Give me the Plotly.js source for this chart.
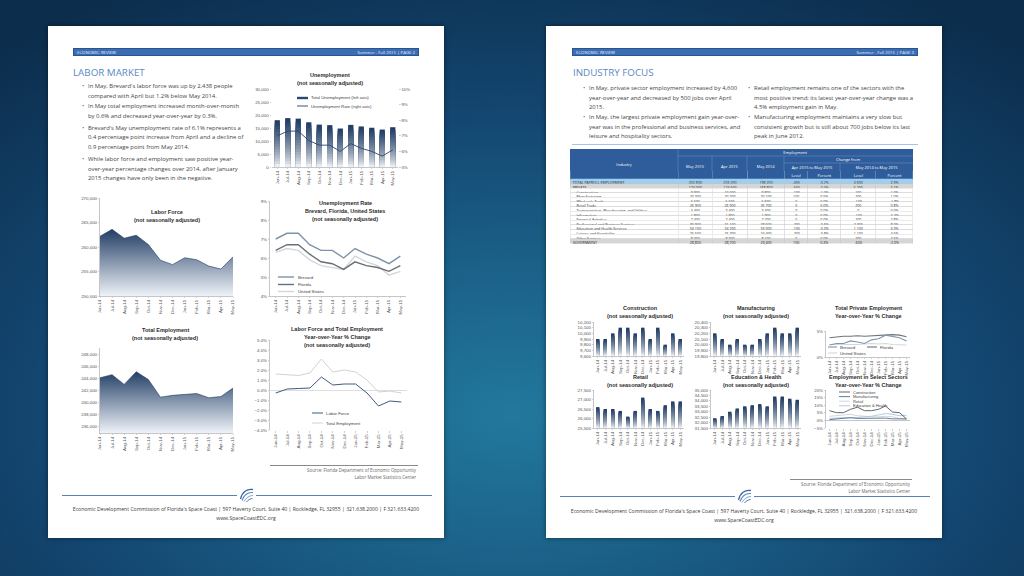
<!DOCTYPE html>
<html>
<head>
<meta charset="utf-8">
<script src="https://cdn.plot.ly/plotly-3.0.1.min.js"></script>
<style>
html,body{margin:0;padding:0;}
body{width:1024px;height:576px;overflow:hidden;position:relative;
background:radial-gradient(ellipse 75% 85% at 50% 72%, #22789d 0%, #1b6188 30%, #134670 62%, #0c2d4c 100%);}
.page{position:absolute;top:26px;width:396px;height:512px;background:#fff;box-shadow:0 0 5px rgba(0,0,0,.45);z-index:1;}
.hbar{position:absolute;z-index:2;height:8px;width:346px;background:#3a6db4;border:0.5px solid #2a5490;box-sizing:border-box;}
.hbar span{position:absolute;top:0;line-height:7px;font-size:4.3px;color:#e4edf9;font-family:'Open Sans',sans-serif;white-space:nowrap;}
.sec{position:absolute;z-index:2;font-family:'Open Sans',sans-serif;font-size:9.8px;color:#5b88c4;line-height:10px;white-space:nowrap;}
.bl{position:absolute;z-index:2;font-family:'Open Sans',sans-serif;font-size:5.9px;line-height:9.3px;color:#444;white-space:nowrap;}
.bl:before{content:'\2022';position:absolute;left:-6px;top:0;color:#4f74a8;}
.src{position:absolute;z-index:2;font-family:'Open Sans',sans-serif;font-size:4.4px;line-height:6.5px;color:#666;text-align:right;white-space:nowrap;}
.hl{position:absolute;z-index:2;height:0;}
.addr{position:absolute;z-index:2;font-family:'Open Sans',sans-serif;font-size:5.1px;line-height:8.5px;color:#3a3a3a;text-align:center;white-space:nowrap;width:396px;}
#plot{position:absolute;left:0;top:0;width:1024px;height:576px;z-index:3;}
#tbl{position:absolute;left:570px;top:149px;width:1029px;height:288px;transform:scale(0.333333);transform-origin:0 0;z-index:4;}
</style>
</head>
<body>
<div class="page" style="left:48px"></div>
<div class="page" style="left:546px"></div>

<!-- left page text -->
<div class="hbar" style="left:73px;top:48px"><span style="left:3px">ECONOMIC REVIEW</span><span style="right:3px">Summer - Fall 2015 | PAGE 2</span></div>
<div class="sec" style="left:73px;top:68px">LABOR MARKET</div>
<div class="bl" style="left:88px;top:82.4px">In May, Brevard's labor force was up by 2,438 people<br>compared with April but 1.2% below May 2014.</div>
<div class="bl" style="left:88px;top:102.4px">In May total employment increased month-over-month<br>by 0.6% and decreased year-over-year by 0.3%.</div>
<div class="bl" style="left:88px;top:124px">Brevard's May unemployment rate of 6.1% represents a<br>0.4 percentage point increase from April and a decline of<br>0.9 percentage point from May 2014.</div>
<div class="bl" style="left:88px;top:155.4px">While labor force and employment saw positive year-<br>over-year percentage changes over 2014, after January<br>2015 changes have only been in the negative.</div>
<div class="hl" style="left:270px;top:465px;width:148px;border-top:1px solid #8a8a8a"></div>
<div class="src" style="left:218px;top:467px;width:198px">Source: Florida Department of Economic Opportunity<br>Labor Market Statistics Center</div>
<div class="hl" style="left:62px;top:495px;width:175px;border-top:1px solid #5a80b8"></div>
<div class="hl" style="left:256px;top:495px;width:176px;border-top:1px solid #5a80b8"></div>
<svg style="position:absolute;left:238px;top:486px;z-index:2" width="17" height="17" viewBox="0 0 17 17">
<path d="M2.5 13 C4 6, 9 2.5, 15 3.5" stroke="#3b66a6" stroke-width="1.3" fill="none"/>
<path d="M4 14.5 C6 9, 10 6, 15 6.5" stroke="#5d86bf" stroke-width="1.1" fill="none"/>
<path d="M6 15.5 C8 12, 11 9.5, 15 9.5" stroke="#7fa2d2" stroke-width="1" fill="none"/>
<path d="M8.5 16 C10 14, 12 12.8, 14.5 12.5" stroke="#3b66a6" stroke-width="0.9" fill="none"/>
</svg>
<div class="addr" style="left:48px;top:505px">Economic Development Commission of Florida's Space Coast | 597 Haverty Court, Suite 40 | Rockledge, FL 32955 | 321.638.2000 | F 321.633.4200<br>www.SpaceCoastEDC.org</div>

<!-- right page text -->
<div class="hbar" style="left:572px;top:48px"><span style="left:3px">ECONOMIC REVIEW</span><span style="right:3px">Summer - Fall 2015 | PAGE 3</span></div>
<div class="sec" style="left:573px;top:68px">INDUSTRY FOCUS</div>
<div class="bl" style="left:589px;top:84.4px">In May, private sector employment increased by 4,600<br>year-over-year and decreased by 500 jobs over April<br>2015.</div>
<div class="bl" style="left:589px;top:113.4px">In May, the largest private employment gain year-over-<br>year was in the professional and business services, and<br>leisure and hospitality sectors.</div>
<div class="bl" style="left:754px;top:84.4px">Retail employment remains one of the sectors with the<br>most positive trend; its latest year-over-year change was a<br>4.5% employment gain in May.</div>
<div class="bl" style="left:754px;top:113.4px">Manufacturing employment maintains a very slow but<br>consistent growth but is still about 700 jobs below its last<br>peak in June 2012.</div>
<div class="hl" style="left:572px;top:144px;width:346px;border-top:1px solid #a9c4e4"></div>
<div class="hl" style="left:790px;top:479px;width:122px;border-top:1px solid #8a8a8a"></div>
<div class="src" style="left:712px;top:481px;width:198px">Source: Florida Department of Economic Opportunity<br>Labor Market Statistics Center</div>
<div class="hl" style="left:560px;top:496px;width:175px;border-top:1px solid #5a80b8"></div>
<div class="hl" style="left:754px;top:496px;width:176px;border-top:1px solid #5a80b8"></div>
<svg style="position:absolute;left:736px;top:487px;z-index:2" width="17" height="17" viewBox="0 0 17 17">
<path d="M2.5 13 C4 6, 9 2.5, 15 3.5" stroke="#3b66a6" stroke-width="1.3" fill="none"/>
<path d="M4 14.5 C6 9, 10 6, 15 6.5" stroke="#5d86bf" stroke-width="1.1" fill="none"/>
<path d="M6 15.5 C8 12, 11 9.5, 15 9.5" stroke="#7fa2d2" stroke-width="1" fill="none"/>
<path d="M8.5 16 C10 14, 12 12.8, 14.5 12.5" stroke="#3b66a6" stroke-width="0.9" fill="none"/>
</svg>
<div class="addr" style="left:546px;top:507px">Economic Development Commission of Florida's Space Coast | 597 Haverty Court, Suite 40 | Rockledge, FL 32955 | 321.638.2000 | F 321.633.4200<br>www.SpaceCoastEDC.org</div>

<div id="plot"></div>
<div id="tbl"></div>
<script>
// ---------------- DATA ----------------
const months = ['Jun-14','Jul-14','Aug-14','Sep-14','Oct-14','Nov-14','Dec-14','Jan-15','Feb-15','Mar-15','Apr-15','May-15'];
const totalUnemployment = [18000,18800,18600,17200,16300,16100,14800,16200,15600,15100,14400,15300];
const unemploymentRate = [7.0,7.3,7.3,6.7,6.4,6.4,6.0,6.5,6.2,6.0,5.7,6.1];
const laborForce = [262200,263600,261800,262400,260500,257300,256400,257800,257400,256100,255500,258000];
const rateBrevard = [7.0,7.3,7.3,6.7,6.4,6.4,6.0,6.5,6.2,6.0,5.7,6.1];
const rateFlorida = [6.4,6.7,6.7,6.2,5.8,5.7,5.4,5.8,5.6,5.5,5.3,5.6];
const rateUS = [6.3,6.5,6.4,5.9,5.6,5.5,5.4,6.1,5.8,5.6,5.1,5.3];
const totalEmployment = [244100,244600,243000,245100,243800,240900,241200,241300,241500,240800,241000,242400];
const laborForceChange = [-0.3,0.1,0.15,0.2,1.3,0.5,0.6,0.6,-0.3,-1.6,-1.1,-1.2];
const totalEmploymentChange = [1.6,1.5,1.45,1.7,3.1,1.8,2.0,1.8,1.0,-0.2,-0.1,-0.3];
const construction = [9900,9900,10000,10100,10100,10000,10100,9900,10100,9800,10000,9900];
const manufacturing = [20200,20100,20000,20100,20000,20000,20100,20200,20300,20200,20200,20300];
const privateBrevard = [2.3,2.6,2.6,3.1,2.9,2.6,3.3,3.5,4.2,4.0,3.7,3.1];
const privateFlorida = [3.7,3.9,4.0,4.0,4.1,4.0,4.1,4.1,4.2,4.3,4.2,3.9];
const privateUS = [2.4,2.4,2.3,2.4,2.4,2.5,2.6,2.5,2.6,2.4,2.3,2.3];
const retail = [26600,26500,26500,26400,26100,26400,27100,26500,26400,26700,26900,26900];
const eduHealth = [32400,32600,33000,33300,33500,33600,33700,33500,34400,34400,34200,34100];
const yoyConstruction = [6.4,5.1,5.1,7.3,8.7,6.4,6.4,7.3,9.5,5.5,5.1,1.0];
const yoyManufacturing = [0.5,1.0,1.3,1.8,1.3,1.3,1.5,1.5,1.5,1.0,1.0,1.0];
const yoyRetail = [2.7,3.1,3.6,4.0,3.1,2.7,2.4,2.4,2.7,2.4,1.3,0.8];
const yoyEduHealth = [1.3,1.6,1.8,1.6,1.8,2.0,2.7,3.6,4.5,4.0,3.1,3.3];

// table
const industries = ['TOTAL PAYROLL EMPLOYMENT','PRIVATE','Construction','Manufacturing','Wholesale Trade','Retail Trade','Transportation, Warehousing, and Utilities','Information','Financial Activities','Professional and Business Services','Education and Health Services','Leisure and Hospitality','Other Services','GOVERNMENT'];
const indent = [0,0,1,1,1,1,1,1,1,1,1,1,1,0];
const emp2015May = ['202,800','174,000','9,900','20,300','5,500','26,900','3,400','1,800','7,400','30,900','34,100','25,500','8,300','28,800'];
const emp2015Apr = ['203,200','174,500','10,000','20,200','5,500','26,900','3,400','1,800','7,400','31,100','34,200','25,700','8,300','28,700'];
const emp2014May = ['198,200','168,800','9,800','20,100','5,600','26,700','3,400','1,900','7,200','28,600','33,000','24,400','8,100','29,400'];
const chgMonthLevel = ['-400','-500','-100','100','0','0','0','0','0','-200','-100','-200','0','100'];
const chgMonthPct = ['-0.2%','-0.3%','-1.0%','0.5%','0.0%','0.0%','0.0%','0.0%','0.0%','-0.6%','-0.3%','-0.8%','0.0%','0.3%'];
const chgYearLevel = ['4,600','5,200','100','200','-100','200','0','-100','200','2,300','1,100','1,100','200','-600'];
const chgYearPct = ['2.3%','3.1%','1.0%','1.0%','-1.8%','0.8%','0.0%','-5.3%','2.8%','8.0%','3.3%','4.5%','2.5%','-2.0%'];
const headerLevels = ['','','','','Level','Percent','Level','Percent'];

// ---------------- HELPERS ----------------
const W=1024,H=576;
const FONT='"Liberation Sans", Arial, sans-serif';
const TF={family:FONT,size:4.4,color:'#555'};
const xd=(a,b)=>[a/W,b/W];
const yd=(t,b)=>[1-b/H,1-t/H];
function cat(x0,x1,anchor,range,extra){return Object.assign({domain:xd(x0,x1),anchor:anchor,type:'category',range:range,tickangle:-90,tickfont:TF,showgrid:false,showline:true,linecolor:'#a0a0a0',linewidth:0.6,ticks:'outside',ticklen:1.5,tickwidth:0.5,tickcolor:'#a0a0a0',zeroline:false,fixedrange:true,automargin:false},extra||{});}
function val(t,b,anchor,range,dtick,fmt,extra){return Object.assign({domain:yd(t,b),anchor:anchor,range:range,dtick:dtick,tickformat:fmt,tickfont:TF,showgrid:false,showline:true,linecolor:'#a0a0a0',linewidth:0.6,ticks:'outside',ticklen:1.5,tickwidth:0.5,tickcolor:'#a0a0a0',zeroline:false,fixedrange:true,automargin:false},extra||{});}
function hex(c){return [parseInt(c.slice(1,3),16),parseInt(c.slice(3,5),16),parseInt(c.slice(5,7),16)];}
function mix(a,b,t){const A=hex(a),B=hex(b);return 'rgb('+A.map((v,i)=>Math.round(v+(B[i]-v)*t)).join(',')+')';}
function gradBars(xa,ya,vals,base,w){const n=16,out=[];for(let k=n;k>=1;k--){const t=Math.pow((k-0.5)/n,0.7);out.push({type:'bar',x:months,y:vals.map(v=>(v-base)*k/n),base:base,xaxis:xa,yaxis:ya,width:w||0.45,marker:{color:mix('#ffffff','#1c3961',t),line:{width:0}},hoverinfo:'skip'});}return out;}
function ln(xa,ya,y,color,w){return {type:'scatter',mode:'lines',x:months,y:y,xaxis:xa,yaxis:ya,line:{color:color,width:w},hoverinfo:'skip'};}
function area(xa,ya,y,start,stop){return {type:'scatter',mode:'lines',x:months,y:y,xaxis:xa,yaxis:ya,fill:'tozeroy',line:{color:'#1c3961',width:0.6},fillcolor:'#5d7aa3',fillgradient:{type:'vertical',start:start,stop:stop,colorscale:[[0,'#eef2f8'],[1,'#1c3961']]},hoverinfo:'skip'};}
function A(x,y,text,o){return Object.assign({xref:'paper',yref:'paper',x:x/W,y:1-y/H,text:text,showarrow:false,xanchor:'center',yanchor:'middle',borderpad:0,font:{family:FONT,size:5.5,color:'#2b2b2b'}},o||{});}
function title(x,y0,lines,dy){return lines.map((s,i)=>A(x,y0+i*(dy||7.8),'<b>'+s+'</b>'));}
function legTxt(x,y,text,sz){return A(x,y,text,{xanchor:'left',font:{family:FONT,size:sz||4.3,color:'#444'}});}
function L(x0,y0,x1,y1,color,width){return {type:'line',xref:'paper',yref:'paper',x0:x0/W,x1:x1/W,y0:1-y0/H,y1:1-y1/H,line:{color:color,width:width}};}
function R(x0,y0,x1,y1,color){return {type:'rect',xref:'paper',yref:'paper',x0:x0/W,x1:x1/W,y0:1-y1/H,y1:1-y0/H,fillcolor:color,line:{width:0},layer:'below'};}

// ---------------- CHART TRACES ----------------
let traces=[];
traces=traces.concat(gradBars('x','y',totalUnemployment,0,0.5));
traces.push(ln('x','y2',unemploymentRate,'#26446c',0.9));
traces.push(area('x2','y3',laborForce,250000,264000));
traces.push(ln('x3','y4',rateUS,'#d3d7dc',1.4));
traces.push(ln('x3','y4',rateFlorida,'#6a7077',1.4));
traces.push(ln('x3','y4',rateBrevard,'#7d93a9',1.4));
traces.push(area('x4','y5',totalEmployment,235000,245500));
traces.push(ln('x5','y6',totalEmploymentChange,'#d2d2d2',1));
traces.push(ln('x5','y6',laborForceChange,'#3d5a80',1));
traces=traces.concat(gradBars('x6','y7',construction,9600));
traces=traces.concat(gradBars('x7','y8',manufacturing,19800));
traces.push(ln('x8','y9',privateUS,'#d3d6da',1.1));
traces.push(ln('x8','y9',privateFlorida,'#6d737a',1.1));
traces.push(ln('x8','y9',privateBrevard,'#7e96ad',1.1));
traces=traces.concat(gradBars('x9','y10',retail,25500));
traces=traces.concat(gradBars('x10','y11',eduHealth,31500));
traces.push(ln('x11','y12',yoyRetail,'#d0d0d0',0.9));
traces.push(ln('x11','y12',yoyEduHealth,'#a7c4e2',0.9));
traces.push(ln('x11','y12',yoyManufacturing,'#4e6f92',0.9));
traces.push(ln('x11','y12',yoyConstruction,'#555555',0.9));

// ---------------- CHART LAYOUT ----------------
const RL=[-0.5,11.5], RA=[0,11];
const R1T=322,R1B=356,R2T=390,R2B=428;
const layout={width:1024,height:576,margin:{l:0,r:0,t:0,b:0},paper_bgcolor:'rgba(0,0,0,0)',plot_bgcolor:'rgba(0,0,0,0)',showlegend:false,barmode:'overlay',
  xaxis: cat(272,398,'y',RL),
  yaxis: val(89,167,'x',[0,30000],5000,',',{showline:false}),
  yaxis2: val(89,167,'x',[5,10],1,'',{overlaying:'y',side:'right',ticksuffix:'%',showline:false}),
  xaxis2: cat(100,233,'y3',RA),
  yaxis3: val(198,296,'x2',[250000,270000],5000,','),
  xaxis3: cat(270,406,'y4',RL),
  yaxis4: val(201,296,'x3',[4,9],1,'',{ticksuffix:'%'}),
  xaxis4: cat(100,233,'y5',RA),
  yaxis5: val(348,433,'x4',[235000,249000],2000,','),
  xaxis5: cat(270,407,'y6',RL,{showline:false}),
  yaxis6: val(340,430,'x5',[-4,5],1,'.1f',{ticksuffix:'%',zeroline:true,zerolinecolor:'#c8c8c8',zerolinewidth:0.6}),
  xaxis6: cat(594,684,'y7',RL),
  yaxis7: val(R1T,R1B,'x6',[9600,10200],100,','),
  xaxis7: cat(711,801,'y8',RL),
  yaxis8: val(R1T,R1B,'x7',[19800,20400],100,','),
  xaxis8: cat(826,910,'y9',RL),
  yaxis9: val(331,357,'x8',[0,5],5,'',{ticksuffix:'%'}),
  xaxis9: cat(594,684,'y10',RL),
  yaxis10: val(R2T,R2B,'x9',[25500,27500],500,','),
  xaxis10: cat(711,801,'y11',RL),
  yaxis11: val(R2T,R2B,'x10',[31500,35000],500,','),
  xaxis11: cat(826,910,'y12',RL,{showline:false}),
  yaxis12: val(R2T,R2B,'x11',[-5,20],5,'',{ticksuffix:'%',zeroline:true,zerolinecolor:'#a0a0a0',zerolinewidth:0.6})
};
let an=[],sh=[];
an=an.concat(title(330,75,['Unemployment','(not seasonally adjusted)']));
an=an.concat(title(167,212,['Labor Force','(not seasonally adjusted)']));
an=an.concat(title(345,203,['Unemployment Rate','Brevard, Florida, United States','(not seasonally adjusted)']));
an=an.concat(title(165,330,['Total Employment','(not seasonally adjusted)']));
an=an.concat(title(337,329,['Labor Force and Total Employment','Year-over-Year % Change','(not seasonally adjusted)']));
an=an.concat(title(640,R1T-14,['Construction','(not seasonally adjusted)']));
an=an.concat(title(756,R1T-14,['Manufacturing','(not seasonally adjusted)']));
an=an.concat(title(868,R1T-14,['Total Private Employment','Year-over-Year % Change']));
an=an.concat(title(640,R2T-13,['Retail','(not seasonally adjusted)']));
an=an.concat(title(756,R2T-13,['Education & Health','(not seasonally adjusted)']));
an=an.concat(title(868,R2T-13,['Employment in Select Sectors','Year-over-Year % Change']));
// legends
sh.push(R(297,96.8,308,99.2,'#2a4a74')); an.push(legTxt(310,98,'Total Unemployment (left axis)'));
sh.push(L(297,106,308,106,'#26446c',0.9)); an.push(legTxt(310,106,'Unemployment Rate (right axis)'));
sh.push(L(278,277,294,277,'#7d93a9',1.4)); an.push(legTxt(297,277,'Brevard'));
sh.push(L(278,284.5,294,284.5,'#6a7077',1.4)); an.push(legTxt(297,284.5,'Florida'));
sh.push(L(278,291.5,294,291.5,'#d3d7dc',1.4)); an.push(legTxt(297,291.5,'United States'));
sh.push(L(312,413,323,413,'#3d5a80',1)); an.push(legTxt(325,413,'Labor Force'));
sh.push(L(312,423,323,423,'#d2d2d2',1)); an.push(legTxt(325,423,'Total Employment'));
sh.push(L(828,347,837,347,'#7e96ad',1.1)); an.push(legTxt(839,347,'Brevard'));
sh.push(L(867,347,877,347,'#6d737a',1.1)); an.push(legTxt(879,347,'Florida'));
sh.push(L(828,353,837,353,'#d3d6da',1.1)); an.push(legTxt(839,353,'United States'));
[['Construction','#555555'],['Manufacturing','#4e6f92'],['Retail','#d0d0d0'],['Education & Health','#a7c4e2']].forEach((d,i)=>{
  const y=R2T+2+i*4.6; sh.push(L(839,y,850,y,d[1],0.9)); an.push(legTxt(852,y,d[0],4));
});
layout.annotations=an; layout.shapes=sh;
Plotly.newPlot('plot',traces,layout,{staticPlot:true,displayModeBar:false});

// ---------------- TABLE (drawn at 3x, scaled down by CSS) ----------------
const S=3, TX0=570, TY0=149, TW=1029, TH=288;
const tx=x=>(x-TX0)*S/TW, ty=y=>1-(y-TY0)*S/TH;
function TL(x0,y0,x1,y1,c,w){return {type:'line',xref:'paper',yref:'paper',x0:tx(x0),x1:tx(x1),y0:ty(y0),y1:ty(y1),line:{color:c,width:w}};}
function TA(x,y,text){return {xref:'paper',yref:'paper',x:tx(x),y:ty(y),text:text,showarrow:false,xanchor:'center',yanchor:'middle',font:{family:'Open Sans',size:12,color:'#ffffff'}};}
const cellFill = industries.map((s,i)=> i===0?'#9ccff0':(i===1||i===13)?'#d6d6d6':'#ffffff');
const fillCols = headerLevels.map(()=>cellFill);
const tableTrace={type:'table',domain:{x:[0,1],y:[0,ty(171)]},columnwidth:[108,34,35,37,23,33,35,37],
  header:{values:headerLevels,height:24,fill:{color:'#2f5d9b'},line:{color:'#8fb0dc',width:1},font:{family:'Open Sans',size:11.5,color:'#ffffff'},align:'center'},
  cells:{values:[industries.map((s,i)=>(indent[i]?'\u00a0\u00a0\u00a0\u00a0':'')+s),emp2015May,emp2015Apr,emp2014May,chgMonthLevel,chgMonthPct,chgYearLevel,chgYearPct],
    height:13.8,fill:{color:fillCols},line:{color:'#c4c4c4',width:1},
    font:{family:'Open Sans',size:10.8,color:'#262626'},align:['left','center','center','center','center','center','center','center']}};
const HL='#8fb0dc';
const tsh=[
  {type:'rect',xref:'paper',yref:'paper',x0:0,x1:1,y0:ty(171),y1:1,fillcolor:'#2f5d9b',line:{width:0}},
  TL(678,156,913,156,HL,1), TL(784,163,913,163,HL,1),
  TL(678,149,678,171,HL,1), TL(712,156,712,171,HL,1), TL(747,156,747,171,HL,1), TL(784,156,784,171,HL,1), TL(840,163,840,171,HL,1)
];
const tan=[TA(624,164,'Industry'),TA(795,152.5,'Employment'),TA(848,159.5,'Change from'),
  TA(695,166.5,'May 2015'),TA(729.5,166.5,'Apr 2015'),TA(765.5,166.5,'May 2014'),
  TA(812,167,'Apr 2015 to May 2015'),TA(876.5,167,'May 2014 to May 2015')];
Plotly.newPlot('tbl',[tableTrace],{width:TW,height:TH,margin:{l:0,r:0,t:0,b:0},paper_bgcolor:'rgba(0,0,0,0)',shapes:tsh,annotations:tan},{staticPlot:true,displayModeBar:false});
</script>
</body>
</html>
